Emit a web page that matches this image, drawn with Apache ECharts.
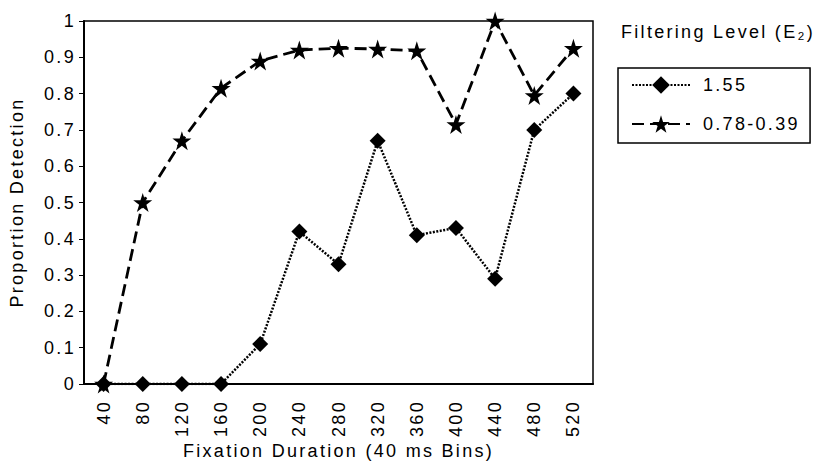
<!DOCTYPE html>
<html><head><meta charset="utf-8">
<script src="https://cdn.jsdelivr.net/npm/echarts@6/dist/echarts.min.js"></script>
<style>html,body{margin:0;padding:0;background:#fff}#c{width:819px;height:465px}#c text{letter-spacing:2.3px}</style>
</head><body><div id="c"></div>
<script>
const categories = ['40','80','120','160','200','240','280','320','360','400','440','480','520'];
const series155 = [0, 0, 0, 0, 0.11, 0.42, 0.33, 0.67, 0.41, 0.43, 0.29, 0.70, 0.80];
const series078 = [0, 0.50, 0.67, 0.815, 0.89, 0.92, 0.925, 0.923, 0.918, 0.715, 1.0, 0.795, 0.925];
const seriesNames = ['1.55', '0.78-0.39'];
const legendTitle = 'Filtering Level (E₂)';
const xName = 'Fixation Duration (40 ms Bins)';
const yName = 'Proportion Detection';

const star = 'path://M50,0 L61.2,34.5 L97.6,34.5 L68.2,55.9 L79.4,90.5 L50,69.1 L20.6,90.5 L31.8,55.9 L2.4,34.5 L38.8,34.5 Z';
const font = 'Liberation Sans, Arial, sans-serif';
const chart = echarts.init(document.getElementById('c'), null, {renderer: 'svg'});
chart.setOption({
  animation: false,
  backgroundColor: '#fff',
  textStyle: {fontFamily: font, color: '#000'},
  title: {text: legendTitle, left: 621, top: 23, padding: 0, textStyle: {fontFamily: font, fontSize: 18, fontWeight: 'normal', color: '#000'}},
  legend: {
    left: 618, top: 68, orient: 'vertical',
    padding: [8, 31, 10, 13], itemGap: 21,
    borderColor: '#000', borderWidth: 1.5,
    itemWidth: 58, itemHeight: 22,
    textStyle: {fontFamily: font, fontSize: 18, color: '#000', padding: [0,0,0,8]},
    data: seriesNames
  },
  grid: {left: 80, top: 21, right: 226, bottom: 78, show: true, borderColor: '#000', borderWidth: 1.5},
  xAxis: {
    type: 'category', data: categories, boundaryGap: true,
    name: xName, nameLocation: 'middle', nameGap: 58,
    nameTextStyle: {fontFamily: font, fontSize: 18, color: '#000'},
    axisLine: {lineStyle: {color: '#000', width: 2}},
    axisTick: {alignWithLabel: true, length: 8, lineStyle: {color: '#000', width: 1}},
    axisLabel: {rotate: 90, fontFamily: font, fontSize: 18, color: '#000', margin: 16}
  },
  yAxis: {
    type: 'value', min: 0, max: 1, interval: 0.1,
    name: yName, nameLocation: 'middle', nameGap: 58,
    nameTextStyle: {fontFamily: font, fontSize: 18, color: '#000'},
    splitLine: {show: false},
    axisLine: {show: true, lineStyle: {color: '#000', width: 2}},
    axisTick: {show: true, length: 5, lineStyle: {color: '#000'}},
    axisLabel: {fontFamily: font, fontSize: 18, color: '#000', margin: 8}
  },
  series: [
    {
      name: seriesNames[0], type: 'line', data: series155,
      symbol: 'diamond', symbolSize: 16, z: 3,
      itemStyle: {color: '#000'},
      lineStyle: {color: '#000', width: 2.5, type: [2, 1.5]}
    },
    {
      name: seriesNames[1], type: 'line', data: series078,
      symbol: star, symbolSize: 19, z: 4,
      itemStyle: {color: '#000'},
      lineStyle: {color: '#000', width: 2.8, type: [12, 6]}
    }
  ]
});
</script></body></html>
